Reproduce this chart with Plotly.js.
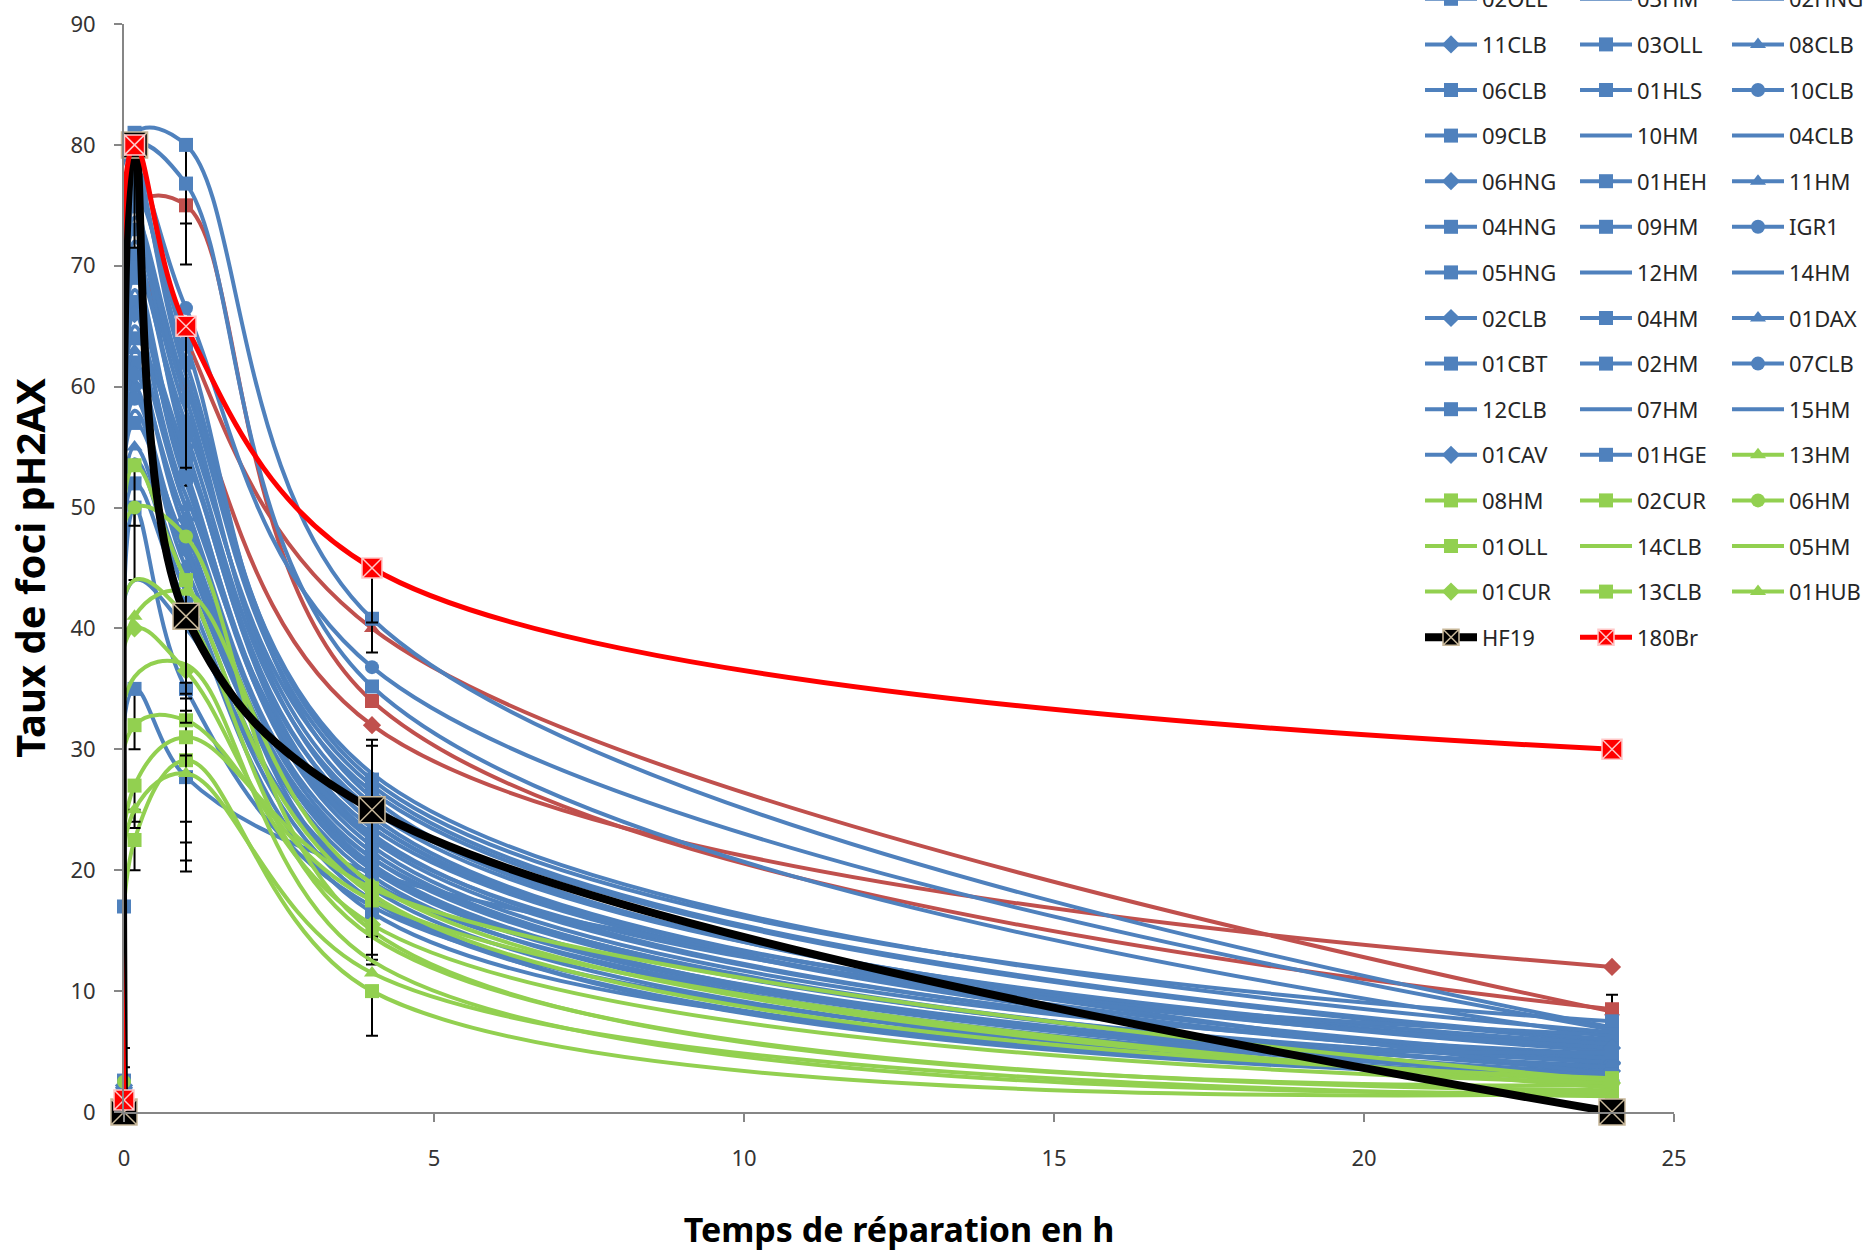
<!DOCTYPE html>
<html><head><meta charset="utf-8">
<script src="https://cdn.plot.ly/plotly-3.0.1.min.js"></script>
<style>html,body{margin:0;padding:0;background:#fff;overflow:hidden;} #chart{width:1868px;height:1255px;}</style>
</head><body><div id="chart"></div>
<script>
// ---- data ----
const times = [0, 0.17, 1, 4, 24];
const xTicks = [0, 5, 10, 15, 20, 25];
const yTicks = [0, 10, 20, 30, 40, 50, 60, 70, 80, 90];

// brown series (legend rows cut off in the original)
const brownNames = ["Série A", "Série B", "Série C"];
const brownSymbols = ["triangle-up", "square", "diamond"];
const brownValues = [
  [1.0, 80, 64, 40, 8.3],
  [2.0, 75, 75, 34, 8.5],
  [0.5, 70, 60, 32, 12]
];

const blueNames = ["02OLL","03HM","02HNG","11CLB","03OLL","08CLB","06CLB","01HLS","10CLB","09CLB","10HM","04CLB",
  "06HNG","01HEH","11HM","04HNG","09HM","IGR1","05HNG","12HM","14HM","02CLB","04HM","01DAX","01CBT","02HM","07CLB",
  "12CLB","07HM","15HM","01CAV","01HGE"];
const blueSymbols = ["square","none","none","diamond","square","triangle-up","square","square","circle","square","none","none",
  "diamond","square","triangle-up","square","square","circle","square","none","none","diamond","square","triangle-up","square","square","circle",
  "square","none","none","diamond","square"];
const blueValues = [
  [1.5, 81, 80, 40.8, 7.0],
  [0.5, 72, 58, 25.5, 5.2],
  [1.0, 68, 52, 22.5, 4.6],
  [2.0, 75, 55, 24, 4.0],
  [1.5, 80, 76.8, 35.2, 6.2],
  [0.8, 66, 50, 21.5, 3.6],
  [2.5, 70, 57, 26.5, 5.8],
  [1.2, 62, 48, 20.5, 3.2],
  [1.8, 78, 66.5, 36.8, 6.8],
  [0.6, 64, 54, 23, 4.3],
  [0.5, 58, 46, 19.5, 3.0],
  [1.0, 74, 60, 27, 6.0],
  [2.2, 60, 45, 21, 3.4],
  [1.5, 77, 62, 27.5, 7.5],
  [0.9, 55, 44, 18.5, 2.8],
  [17, 50, 35, 17, 2.6],
  [1.2, 69, 53, 22, 4.8],
  [2.0, 73, 59, 24.5, 5.5],
  [0.7, 57, 47, 20, 3.8],
  [0.4, 65, 51, 23.5, 4.4],
  [0.6, 44, 40, 19, 3.0],
  [1.8, 61, 49, 21, 4.1],
  [1.4, 76, 63.5, 26, 5.0],
  [1.0, 63, 50, 18, 2.9],
  [2.6, 71, 56, 25, 5.6],
  [1.1, 67, 52.5, 22.8, 6.4],
  [0.8, 59, 46.5, 20.2, 3.7],
  [1.6, 35, 27.7, 19.8, 3.1],
  [0.5, 78, 61, 28, 6.6],
  [0.4, 54, 43, 17.5, 2.7],
  [0.9, 66, 54.5, 24, 5.3],
  [1.3, 52, 42, 16.5, 4.9]
];

const greenNames = ["13HM","08HM","02CUR","06HM","01OLL","14CLB","05HM","01CUR","13CLB","01HUB"];
const greenSymbols = ["triangle-up","square","square","circle","square","none","none","diamond","square","triangle-up"];
const greenValues = [
  [1.0, 41, 43, 18.9, 2.5],
  [1.0, 53.5, 44, 18, 2.8],
  [0.5, 22.5, 29.1, 10, 1.5],
  [2.5, 50, 47.6, 15, 2.2],
  [0.5, 32, 32.4, 17.5, 2.0],
  [0.5, 44, 41, 14.5, 1.8],
  [0.5, 36, 37, 12.5, 1.6],
  [0.5, 40, 36.5, 15.5, 2.4],
  [0.5, 27, 31, 18.5, 2.6],
  [0.5, 25, 28, 11.5, 1.3]
];

const hf19Values = [0, 80, 41, 25, 0];
const br180Values = [1, 80, 65, 45, 30];

// error bars (minus / plus) per series
const errSeries = ["HF19","180Br","02OLL","03OLL","04HM","01HEH","01HGE","14HM","01CBT","12CLB",
  "13HM","01CUR","01OLL","02CUR","01HUB","13CLB","08HM","06HM","14CLB","Série B"];
const errMinus = [
  [0, 8.5, 5.5, 12, 0],
  [0, 0, 11.7, 4.5, 0],
  [0, 0, 6.5, 2.8, 0],
  [0, 0, 6.7, 0, 0],
  [0, 0, 11, 0, 0],
  [0, 0, 10.2, 0, 0],
  [0, 0, 7.4, 0, 0],
  [0, 0, 5.8, 0, 0],
  [0, 0, 0, 0, 0],
  [0, 5, 7.8, 0, 0],
  [0, 0, 9.8, 0, 0],
  [0, 0, 4.3, 0, 0],
  [0, 0, 2.9, 0, 0],
  [0, 2.5, 8.3, 3.7, 0],
  [0, 1.5, 5.7, 0, 0],
  [0, 3, 7, 0, 0],
  [0, 5, 0, 0, 0],
  [0, 6, 0, 2.4, 0],
  [0, 0, 0, 2.3, 0],
  [0, 0, 0, 0, 0]
];
const errPlus = [
  [3.7, 0, 0, 5.8, 0],
  [0, 0, 0, 0, 0],
  [0, 0, 0, 0, 0],
  [0, 0, 0, 0, 0],
  [0, 0, 0, 0, 0],
  [0, 0, 0, 2.8, 0],
  [0, 0, 0, 0, 0],
  [0, 0, 0, 0, 0],
  [2.7, 0, 0, 0, 0],
  [0, 0, 0, 0, 0],
  [0, 0, 0, 0, 0],
  [0, 0, 0, 0, 0],
  [0, 0, 0, 0, 0],
  [0, 0, 0, 0, 0],
  [0, 0, 0, 0, 0],
  [0, 0, 0, 0, 0],
  [0, 0, 0, 0, 0],
  [0, 0, 0, 0, 0],
  [0, 0, 0, 0, 0],
  [0, 0, 0, 0, 1.2]
];

// legend order (row-major, 3 columns)
const legendOrder = ["02OLL","03HM","02HNG","11CLB","03OLL","08CLB","06CLB","01HLS","10CLB","09CLB","10HM","04CLB",
  "06HNG","01HEH","11HM","04HNG","09HM","IGR1","05HNG","12HM","14HM","02CLB","04HM","01DAX","01CBT","02HM","07CLB",
  "12CLB","07HM","15HM","01CAV","01HGE","13HM","08HM","02CUR","06HM","01OLL","14CLB","05HM","01CUR","13CLB","01HUB",
  "HF19","180Br"];

// ---- styling ----
const BLUE = "#4F81BD", GREEN = "#92D050", BROWN = "#C0504D";
const FONT = "Noto Sans";

function errorFor(name) {
  const k = errSeries.indexOf(name);
  if (k < 0) return undefined;
  const mi = errMinus[k].map((v, i) => (v === 0 && errPlus[k][i] === 0) ? NaN : v);
  const pl = errPlus[k].map((v, i) => (v === 0 && errMinus[k][i] === 0) ? NaN : v);
  return {type: "data", symmetric: false, array: pl, arrayminus: mi, color: "#000", thickness: 2, width: 6};
}
function legendFor(name) {
  const k = legendOrder.indexOf(name);
  if (k < 0) return null;
  return ["legend", "legend2", "legend3"][k % 3];
}
function makeTrace(name, vals, color, symbol, lw, msize, extra) {
  const lg = legendFor(name);
  const t = {
    type: "scatter", x: times, y: vals, name: name,
    mode: symbol === "none" ? "lines" : "lines+markers",
    line: {color: color, width: lw, shape: "spline", smoothing: 1},
    marker: {symbol: symbol === "none" ? "circle" : symbol, size: msize, color: color},
    cliponaxis: false, hoverinfo: "name+x+y"
  };
  if (lg) { t.legend = lg; t.legendgroup = name; t.legendrank = legendOrder.indexOf(name); }
  else { t.showlegend = false; }
  const e = errorFor(name);
  if (e) t.error_y = e;
  return Object.assign(t, extra || {});
}

const LW = 4, MS = 14;
const traces = [];
brownNames.forEach((n, i) => traces.push(makeTrace(n, brownValues[i], BROWN, brownSymbols[i], LW, MS)));
blueNames.forEach((n, i) => traces.push(makeTrace(n, blueValues[i], BLUE, blueSymbols[i], LW, MS)));
greenNames.forEach((n, i) => traces.push(makeTrace(n, greenValues[i], GREEN, greenSymbols[i], LW, MS)));
traces.push(makeTrace("HF19", hf19Values, "#000000", "square-x", 8, 26,
  {marker: {symbol: "square-x", size: 26, color: "#000000", line: {color: "#C8B89A", width: 1.5}}}));
traces.push(makeTrace("180Br", br180Values, "#FF0000", "square-x", 5, 20,
  {marker: {symbol: "square-x", size: 20, color: "#FF0000", line: {color: "#FFC8C8", width: 1.5}}}));

const legendBase = {
  xref: "container", yref: "paper", xanchor: "left", yanchor: "top",
  bgcolor: "rgba(0,0,0,0)", borderwidth: 0, maxheight: 1100,
  font: {family: FONT, size: 22, color: "#262626"},
  traceorder: "grouped", tracegroupgap: 14, itemwidth: 52, orientation: "v"
};
// legend top ~22px above the figure edge: the first row is cut, as in the original
const legTop = 1 + (24 + 22) / 1088;

const axisFont = {family: FONT, size: 22, color: "#333333"};
const layout = {
  width: 1868, height: 1255,
  margin: {l: 124, r: 194, t: 24, b: 143, autoexpand: false},
  paper_bgcolor: "#ffffff", plot_bgcolor: "#ffffff",
  font: {family: FONT},
  showlegend: true,
  legend: Object.assign({}, legendBase, {x: 1420 / 1868, y: legTop}),
  legend2: Object.assign({}, legendBase, {x: 1575 / 1868, y: legTop}),
  legend3: Object.assign({}, legendBase, {x: 1727 / 1868, y: legTop}),
  xaxis: {
    range: [0, 25], tickvals: xTicks, ticktext: xTicks.map(String),
    showline: true, linecolor: "#868686", linewidth: 2, mirror: false,
    ticks: "outside", ticklen: 8, tickwidth: 2, tickcolor: "#868686",
    showgrid: false, zeroline: false, tickfont: axisFont, ticklabelstandoff: 18,
    title: {text: "Temps de réparation en h", font: {family: FONT, size: 34, weight: 700, color: "#000"}, standoff: 47}
  },
  yaxis: {
    range: [0, 90], tickvals: yTicks, ticktext: yTicks.map(String),
    showline: true, linecolor: "#868686", linewidth: 2,
    ticks: "outside", ticklen: 8, tickwidth: 2, tickcolor: "#868686",
    showgrid: false, zeroline: false, tickfont: axisFont, ticklabelstandoff: 14,
    title: {text: "Taux de foci pH2AX", font: {family: FONT, size: 40, weight: 700, color: "#000"}, standoff: 12}
  }
};

Plotly.newPlot("chart", traces, layout, {displayModeBar: false, staticPlot: true});
</script></body></html>
